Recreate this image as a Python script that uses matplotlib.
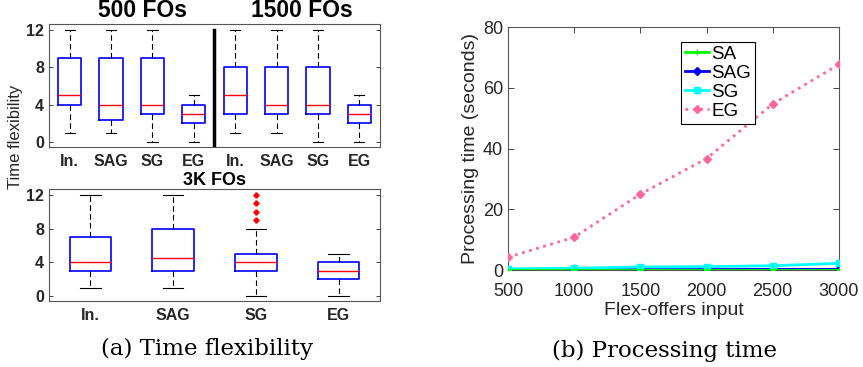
import matplotlib
matplotlib.use('Agg')
import matplotlib.pyplot as plt

plt.rcParams['font.family'] = 'Liberation Sans'

# ---- data: time flexibility box stats (whislo, q1, med, q3, whishi) ----
box_labels = ['In.', 'SAG', 'SG', 'EG']

fo500_lo = [1, 1, 0, 0]
fo500_q1 = [4, 2.3, 3, 2]
fo500_med = [5, 4, 4, 3]
fo500_q3 = [9, 9, 9, 4]
fo500_hi = [12, 12, 12, 5]

fo1500_lo = [1, 1, 0, 0]
fo1500_q1 = [3, 3, 3, 2]
fo1500_med = [5, 4, 4, 3]
fo1500_q3 = [8, 8, 8, 4]
fo1500_hi = [12, 12, 12, 5]

fo3k_lo = [1, 1, 0, 0]
fo3k_q1 = [3, 3, 3, 2]
fo3k_med = [4, 4.5, 4, 3]
fo3k_q3 = [7, 8, 5, 4]
fo3k_hi = [12, 12, 8, 5]
fo3k_fliers = [[], [], [9, 10, 11, 12], []]

# ---- data: processing time ----
fo_input = [500, 1000, 1500, 2000, 2500, 3000]
t_sa = [0.1, 0.1, 0.1, 0.1, 0.1, 0.1]
t_sag = [0.05, 0.1, 0.15, 0.15, 0.2, 0.2]
t_sg = [0.4, 0.6, 1.0, 1.1, 1.4, 2.2]
t_eg = [4.2, 10.8, 25.0, 36.7, 54.7, 67.7]


def make_stats(lo, q1, med, q3, hi, fliers=None):
    stats = []
    for i in range(len(lo)):
        stats.append({'whislo': lo[i], 'q1': q1[i], 'med': med[i], 'q3': q3[i],
                      'whishi': hi[i], 'fliers': fliers[i] if fliers else []})
    return stats


box_kw = dict(showfliers=True,
              boxprops=dict(color='#0000ff', linewidth=1.2),
              medianprops=dict(color='#ff0000', linewidth=1.0),
              whiskerprops=dict(color='black', linestyle=(0, (5, 3)), linewidth=0.8),
              capprops=dict(color='black', linewidth=0.8),
              flierprops=dict(marker='+', markerfacecolor='#ff0000', markeredgecolor='#ff0000',
                              markersize=4.5, markeredgewidth=2, linestyle='none'))

tick_color = '#262626'


def style_box_ax(ax):
    ax.set_ylim(-0.55, 12.65)
    ax.set_yticks([0, 4, 8, 12])
    ax.tick_params(direction='in', top=True, right=True, length=3, width=0.6,
                   colors=tick_color, labelsize=11.5)
    ax.tick_params(axis='x', top=False, length=0, pad=5)
    for lab in ax.get_xticklabels() + ax.get_yticklabels():
        lab.set_fontweight('bold')
    for s in ax.spines.values():
        s.set_color('#555555')
        s.set_linewidth(0.8)


fig = plt.figure(figsize=(8.63, 3.67), dpi=100)

# top-left: 500 and 1500 FOs
ax1 = fig.add_axes([0.0568, 0.5995, 0.3835, 0.335])
stats_top = make_stats(fo500_lo, fo500_q1, fo500_med, fo500_q3, fo500_hi) + \
    make_stats(fo1500_lo, fo1500_q1, fo1500_med, fo1500_q3, fo1500_hi)
ax1.bxp(stats_top, positions=range(1, 9), widths=0.56, capwidths=0.25, **box_kw)
ax1.set_xlim(0.5, 8.5)
ax1.set_xticks(range(1, 9))
ax1.set_xticklabels(box_labels + box_labels)
ax1.axvline(4.5, ymax=0.955, color='black', linewidth=2.5)
style_box_ax(ax1)
ax1.text(2.75, 1.02, '500 FOs', transform=ax1.get_xaxis_transform(), ha='center',
         va='bottom', fontsize=16.5, fontweight='bold')
ax1.text(6.6, 1.02, '1500 FOs', transform=ax1.get_xaxis_transform(), ha='center',
         va='bottom', fontsize=16.5, fontweight='bold')

# bottom-left: 3K FOs
ax2 = fig.add_axes([0.0568, 0.1798, 0.3835, 0.305])
ax2.bxp(make_stats(fo3k_lo, fo3k_q1, fo3k_med, fo3k_q3, fo3k_hi, fo3k_fliers),
        positions=range(1, 5), widths=0.5, capwidths=0.25, **box_kw)
ax2.set_xlim(0.5, 4.5)
ax2.set_xticks(range(1, 5))
ax2.set_xticklabels(box_labels)
style_box_ax(ax2)
ax2.set_title('3K FOs', fontsize=13, fontweight='bold', pad=0)

fig.text(0.018, 0.627, 'Time flexibility', rotation=90, ha='center', va='center',
         fontsize=12, color=tick_color)
fig.text(0.24, 0.05, '(a) Time flexibility', ha='center', va='center',
         fontsize=16.5, family='DejaVu Serif')

# right: processing time
ax3 = fig.add_axes([0.5886, 0.2643, 0.3835, 0.662])
ax3.plot(fo_input, t_sag, color='#0000ff', linewidth=2, marker='D', markersize=4,
         label='SAG', zorder=3)
ax3.plot(fo_input, t_sg, color='#00ffff', linewidth=2, marker='s', markersize=4,
         label='SG', zorder=3)
ax3.plot(fo_input, t_sa, color='#00ff00', linewidth=2, marker='+', markersize=5,
         label='SA', zorder=4)
ax3.plot(fo_input, t_eg, color='#ff6699', linewidth=2, linestyle=':', marker='D',
         markersize=4.5, label='EG', zorder=3)
ax3.set_xlim(500, 3000)
ax3.set_ylim(0, 80)
ax3.set_xticks(fo_input)
ax3.set_yticks([0, 20, 40, 60, 80])
ax3.tick_params(direction='in', top=True, right=True, length=4, width=0.6,
                colors=tick_color, labelsize=13)
ax3.tick_params(axis='x', pad=9)
for s in ax3.spines.values():
    s.set_color('#555555')
    s.set_linewidth(0.8)
ax3.set_xlabel('Flex-offers input', fontsize=14, color=tick_color, labelpad=2)
ax3.set_ylabel('Processing time (seconds)', fontsize=14, color=tick_color, labelpad=3)

handles, labels = ax3.get_legend_handles_labels()
order = [labels.index(n) for n in ['SA', 'SAG', 'SG', 'EG']]
leg = ax3.legend([handles[i] for i in order], [labels[i] for i in order],
                 loc='upper left', bbox_to_anchor=(0.523, 0.938), borderaxespad=0,
                 fancybox=False, edgecolor='black', fontsize=13.5, handlelength=1.3,
                 handletextpad=0.1, labelspacing=0.1, borderpad=0.2, framealpha=1)
leg.get_frame().set_linewidth(0.8)

fig.text(0.77, 0.045, '(b) Processing time', ha='center', va='center',
         fontsize=16.5, family='DejaVu Serif')

plt.savefig('out.png', dpi=100)
